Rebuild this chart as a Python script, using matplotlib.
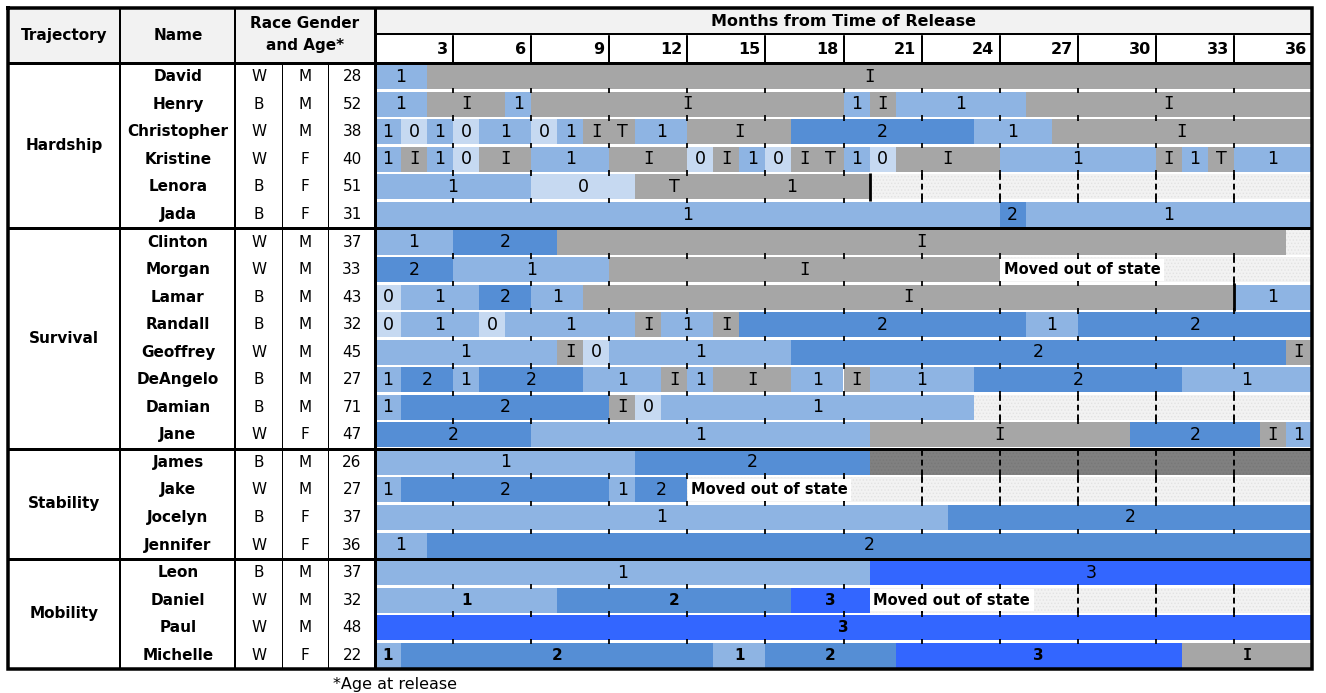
import matplotlib.pyplot as plt

plt.rcParams['font.family'] = ['DejaVu Sans']
plt.rcParams['hatch.linewidth'] = 0.6

W, H = 1326, 693

# ---- data ----
groups = ['Hardship', 'Survival', 'Stability', 'Mobility']
group_sizes = [6, 8, 4, 4]
names = ['David', 'Henry', 'Christopher', 'Kristine', 'Lenora', 'Jada',
         'Clinton', 'Morgan', 'Lamar', 'Randall', 'Geoffrey', 'DeAngelo', 'Damian', 'Jane',
         'James', 'Jake', 'Jocelyn', 'Jennifer',
         'Leon', 'Daniel', 'Paul', 'Michelle']
race = ['W', 'B', 'W', 'W', 'B', 'B',
        'W', 'W', 'B', 'B', 'W', 'B', 'B', 'W',
        'B', 'W', 'B', 'W',
        'B', 'W', 'W', 'W']
gender = ['M', 'M', 'M', 'F', 'F', 'F',
          'M', 'M', 'M', 'M', 'M', 'M', 'M', 'F',
          'M', 'M', 'F', 'F',
          'M', 'M', 'M', 'F']
age = [28, 52, 38, 40, 51, 31,
       37, 33, 43, 32, 45, 27, 71, 47,
       26, 27, 37, 36,
       37, 32, 48, 22]

# state codes per person (M = missing, X = moved out of state, D = dark missing)
seg_codes = [
    '1 I',
    '1 I 1 I 1 I 1 I',
    '1 0 1 0 1 0 1 I T 1 I 2 1 I',
    '1 I 1 0 I 1 I 0 I 1 0 I T 1 0 I 1 I 1 T 1',
    '1 0 T 1g M',
    '1 2 1',
    '1 2 I M',
    '2 1 I X',
    '0 1 2 1 I 1',
    '0 1 0 1 I 1 I 2 1 2',
    '1 I 0 1 2 I',
    '1 2 1 2 1 I 1 I 1 I 1 2 1',
    '1 2 I 0 1 M',
    '2 1 I 2 I 1',
    '1 2 D',
    '1 2 1 2 X',
    '1 2',
    '1 2',
    '1 3',
    '1 2 3 X',
    '3',
    '1 2 1 2 3 I',
]
# month at which each segment ends
seg_ends = [
    [2, 36],
    [2, 5, 6, 18, 19, 20, 25, 36],
    [1, 2, 3, 4, 6, 7, 8, 9, 10, 12, 16, 23, 26, 36],
    [1, 2, 3, 4, 6, 9, 12, 13, 14, 15, 16, 17, 18, 19, 20, 24, 30, 31, 32, 33, 36],
    [6, 10, 13, 19, 36],
    [24, 25, 36],
    [3, 7, 35, 36],
    [3, 9, 24, 36],
    [1, 4, 6, 8, 33, 36],
    [1, 4, 5, 10, 11, 13, 14, 25, 27, 36],
    [7, 8, 9, 16, 35, 36],
    [1, 3, 4, 8, 11, 12, 13, 16, 18, 19, 23, 31, 36],
    [1, 9, 10, 11, 23, 36],
    [6, 19, 29, 34, 35, 36],
    [10, 19, 36],
    [1, 9, 10, 12, 36],
    [22, 36],
    [2, 36],
    [19, 36],
    [7, 16, 19, 36],
    [36],
    [1, 13, 15, 20, 31, 36],
]
bold_rows = ['Daniel', 'Paul', 'Michelle']
solid_marks = [('Lenora', 19), ('Lamar', 33)]
months = list(range(3, 37, 3))

colors = {'0': '#C6D9F1', '1': '#8EB4E3', '2': '#558ED5', '3': '#3366FF',
          'I': '#A6A6A6', 'T': '#A6A6A6', '1g': '#A6A6A6',
          'M': '#F2F2F2', 'X': '#F2F2F2', 'D': '#808080'}

# ---- layout (pixels) ----
LEFT, RIGHT, TOP, BOT = 8, 1312, 8, 669
HEAD_MID, HEAD_BOT = 34, 63
X0 = 375
n = len(names)
P = (BOT - HEAD_BOT) / n
px = 0.72  # points per pixel


def add_px_axes(x0, y0, x1, y1, **kw):
    return fig.add_axes([x0 / W, 1 - y1 / H, (x1 - x0) / W, (y1 - y0) / H], **kw)


fig = plt.figure(figsize=(W / 100, H / 100), dpi=100)

# bars
ax = add_px_axes(X0, HEAD_BOT, RIGHT, BOT)
ax.set_xlim(0, 36)
ax.set_ylim(n - 0.5, -0.5)
ax.axis('off')

for i, name in enumerate(names):
    codes = seg_codes[i].split()
    ends = seg_ends[i]
    starts = [0] + ends[:-1]
    bold = name in bold_rows
    for c, s, e in zip(codes, starts, ends):
        missing = c in ('M', 'X', 'D')
        ax.barh(i, e - s, left=s, height=0.91, color=colors[c],
                hatch='.....' if missing else None,
                edgecolor='#E2E2E2' if c != 'D' else '#777777', linewidth=0, zorder=1)
        if missing:
            inner = [m for m in months if s < m < 36]
            ax.vlines(inner, i - 0.455, i + 0.455, color='black', lw=1.4,
                      linestyles=(0, (3, 2)), zorder=2)
            if c == 'X':
                ax.text(s + 0.15, i, 'Moved out of state', ha='left', va='center',
                        fontsize=10.5, fontweight='bold', zorder=4,
                        bbox=dict(facecolor='white', edgecolor='none', pad=2.5))
        else:
            label = '1' if c == '1g' else c
            fam = 'DejaVu Sans Mono' if label == 'I' else 'DejaVu Sans'
            ax.text((s + e) / 2, i, label, ha='center', va='center',
                    fontsize=11 if bold else 12.5, family=fam,
                    fontweight='bold' if bold else 'normal', zorder=3)

for name, m in solid_marks:
    i = names.index(name)
    ax.vlines(m, i - 0.5, i + 0.5, color='black', lw=2, zorder=3)

# little ticks on the row separators
bounds = [sum(group_sizes[:k]) for k in range(1, len(group_sizes))]
for r in range(1, n):
    if r in bounds:
        continue
    ax.vlines(months[:-1], r - 0.5 - 0.1, r - 0.5 + 0.1, color='black', lw=1.3, zorder=3)

# month header
axh = add_px_axes(X0, HEAD_MID, RIGHT, HEAD_BOT)
axh.set_xlim(0, 36)
axh.set_ylim(1, 0)
axh.axis('off')
for m in months:
    axh.text(m - 0.2, 0.55, str(m), ha='right', va='center', fontsize=11.5, fontweight='bold')
axh.vlines(months[:-1], 0, 1, color='black', lw=2 * px)

# table frame / left part
axt = fig.add_axes([0, 0, 1, 1], zorder=5)
axt.set_xlim(0, W)
axt.set_ylim(H, 0)
axt.axis('off')
axt.patch.set_alpha(0)

axt.fill_between([LEFT, X0], TOP, HEAD_BOT, color='#F2F2F2', zorder=0)
axt.fill_between([X0, RIGHT], TOP, HEAD_MID, color='#F2F2F2', zorder=0)

axt.text((X0 + RIGHT) / 2, (TOP + HEAD_MID) / 2 + 1, 'Months from Time of Release',
         ha='center', va='center', fontsize=11.5, fontweight='bold')
axt.text(64, (TOP + HEAD_BOT) / 2, 'Trajectory', ha='center', va='center',
         fontsize=11, fontweight='bold')
axt.text(178, (TOP + HEAD_BOT) / 2, 'Name', ha='center', va='center',
         fontsize=11, fontweight='bold')
axt.text(305, (TOP + HEAD_BOT) / 2 - 1, 'Race Gender\nand Age*', ha='center', va='center',
         fontsize=11, fontweight='bold', linespacing=1.55)

for i in range(n):
    y = HEAD_BOT + (i + 0.5) * P
    axt.text(178, y, names[i], ha='center', va='center', fontsize=11, fontweight='bold')
    axt.text(259, y, race[i], ha='center', va='center', fontsize=11)
    axt.text(305, y, gender[i], ha='center', va='center', fontsize=11)
    axt.text(352, y, str(age[i]), ha='center', va='center', fontsize=11)

start = 0
for g, size in zip(groups, group_sizes):
    y = HEAD_BOT + (start + size / 2) * P
    axt.text(64, y, g, ha='center', va='center', fontsize=11, fontweight='bold')
    start += size

# lines
axt.hlines(HEAD_MID, X0, RIGHT, color='black', lw=2 * px)
axt.hlines(HEAD_BOT, LEFT, RIGHT, color='black', lw=3 * px)
for b in bounds:
    axt.hlines(HEAD_BOT + b * P, LEFT, RIGHT, color='black', lw=3 * px)
axt.vlines([120, 235], TOP, BOT, color='black', lw=2 * px)
axt.vlines([282, 328], HEAD_BOT, BOT, color='black', lw=1 * px)
axt.vlines(X0, TOP, BOT, color='black', lw=3 * px)
axt.plot([LEFT, RIGHT, RIGHT, LEFT, LEFT], [TOP, TOP, BOT, BOT, TOP],
         color='black', lw=3.5 * px, solid_joinstyle='miter')

axt.text(333, 684, '*Age at release', ha='left', va='center', fontsize=11.5)

fig.savefig('out.png', dpi=100)
